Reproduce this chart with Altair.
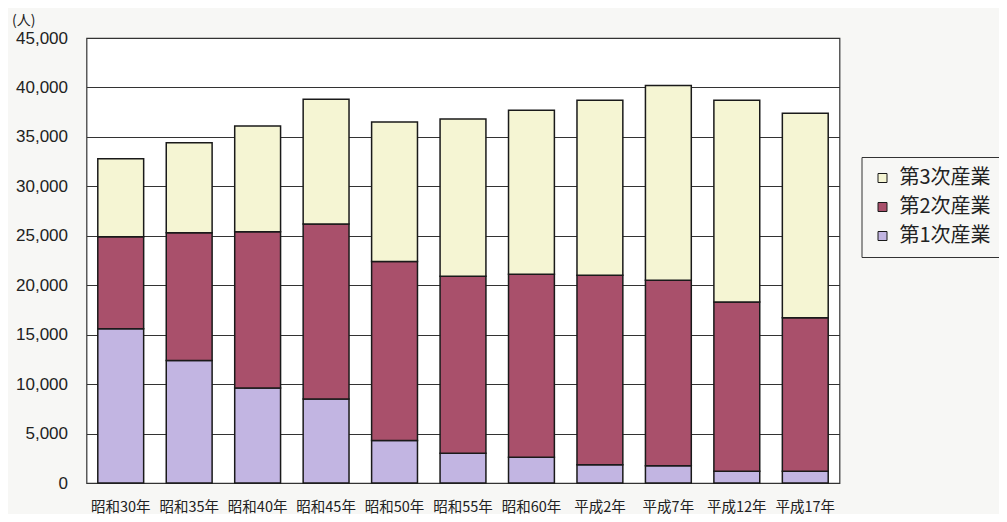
import altair as alt
import pandas as pd

years = ["昭和30年", "昭和35年", "昭和40年", "昭和45年", "昭和50年", "昭和55年",
         "昭和60年", "平成2年", "平成7年", "平成12年", "平成17年"]
primary = [15600, 12400, 9600, 8500, 4300, 3000, 2600, 1850, 1750, 1200, 1200]
secondary = [9300, 12900, 15800, 17700, 18100, 17900, 18500, 19150, 18750, 17100, 15500]
tertiary = [7900, 9100, 10700, 12600, 14100, 15900, 16600, 17700, 19700, 20400, 20700]
sectors = ["第1次産業", "第2次産業", "第3次産業"]
colors = ["#c2b5e2", "#a9506b", "#f5f5d3"]

rows = []
for i, y in enumerate(years):
    for k, (name, vals) in enumerate(zip(sectors, [primary, secondary, tertiary])):
        rows.append({"year": y, "sector": name, "value": vals[i], "ord": k})
df = pd.DataFrame(rows)

FONT = "Noto Sans CJK JP"

chart = alt.Chart(df).mark_bar(stroke="#1a1a1a", strokeWidth=1.5).encode(
    x=alt.X("year:N", sort=years, title=None,
            scale=alt.Scale(paddingInner=0.33, paddingOuter=0.165),
            axis=alt.Axis(labelAngle=0, labelFontSize=14.5, labelFont=FONT,
                          labelColor="#222", labelPadding=17, ticks=False,
                          domain=False, grid=False)),
    y=alt.Y("value:Q", stack="zero", title="(人)",
            scale=alt.Scale(domain=[0, 45000]),
            axis=alt.Axis(values=list(range(0, 45001, 5000)), format=",.0f",
                          labelFontSize=17, labelFont="Liberation Sans",
                          labelColor="#222", labelPadding=19, ticks=False,
                          domain=False, grid=True, gridColor="#333",
                          gridWidth=1.2, titleAngle=0, titleAlign="left",
                          titleBaseline="middle", titleX=-75, titleY=-18,
                          titleFont=FONT, titleFontSize=14,
                          titleFontWeight="normal", titleColor="#222")),
    color=alt.Color("sector:N",
                    scale=alt.Scale(domain=sectors[::-1], range=colors[::-1]),
                    legend=alt.Legend(title=None, orient="none",
                                      legendX=775, legendY=119,
                                      symbolType="square", symbolSize=81,
                                      symbolStrokeColor="#1a1a1a",
                                      symbolStrokeWidth=1,
                                      labelFontSize=20, labelFont=FONT,
                                      labelColor="#222", labelOffset=7,
                                      rowPadding=9, padding=11,
                                      strokeColor="#333", labelLimit=300)),
    order=alt.Order("ord:Q", sort="ascending"),
).properties(
    width=753, height=445,
    autosize="none",
    padding={"left": 78.5, "top": 30, "right": 159, "bottom": 31},
    background="#f7f7f5",
).configure_view(
    fill="white", stroke="#333", strokeWidth=1.2
)

chart.save("out.html", embed_options={"renderer": "svg", "actions": False})
